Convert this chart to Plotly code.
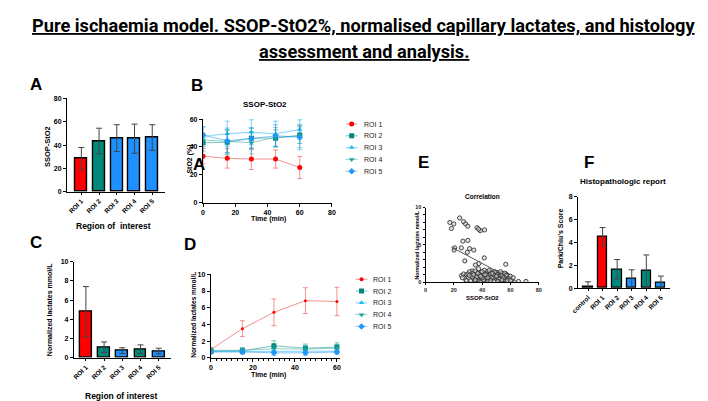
import plotly.graph_objects as go

W, H = 708, 401
FONT = "Liberation Sans, Arial, sans-serif"

RED = "#FF0000"
TEAL = "#00897B"
BLUE = "#1E90FF"
SKY = "#29B6F6"

# ---- data -------------------------------------------------------------
roi = ["ROI 1", "ROI 2", "ROI 3", "ROI 4", "ROI 5"]

# A: SSOP-StO2 per region
a_mean = [28.5, 43.5, 46.0, 45.5, 46.5]
a_sd = [9.5, 11.0, 11.5, 12.5, 11.0]

# B: SSOP-StO2 over time
time_b = [0, 15, 30, 45, 60]
b_mean = {
    "ROI 1": [33.4, 31.8, 31.3, 31.3, 25.2],
    "ROI 2": [43.0, 43.3, 46.3, 46.3, 48.5],
    "ROI 3": [47.5, 49.5, 50.5, 49.5, 52.5],
    "ROI 4": [45.0, 44.0, 43.0, 47.0, 47.5],
    "ROI 5": [48.5, 44.5, 46.0, 48.0, 47.0],
}
b_sd = {
    "ROI 1": [5.5, 7.0, 7.5, 6.5, 8.0],
    "ROI 2": [6.0, 9.0, 7.0, 6.0, 6.0],
    "ROI 3": [7.0, 9.0, 9.0, 9.0, 7.0],
    "ROI 4": [5.0, 8.0, 8.0, 7.0, 8.0],
    "ROI 5": [6.0, 9.0, 8.0, 8.0, 9.0],
}

# C: normalised lactates per region
c_mean = [4.8, 1.1, 0.75, 0.9, 0.7]
c_sd = [2.6, 0.55, 0.3, 0.45, 0.3]

# D: normalised lactates over time
time_d = [0, 15, 30, 45, 60]
d_mean = {
    "ROI 1": [1.0, 3.5, 5.45, 6.85, 6.75],
    "ROI 2": [0.8, 0.85, 1.45, 1.15, 1.3],
    "ROI 3": [0.75, 0.75, 0.8, 0.75, 0.8],
    "ROI 4": [0.9, 0.9, 1.1, 1.05, 1.15],
    "ROI 5": [0.7, 0.7, 0.6, 0.6, 0.7],
}
d_sd = {
    "ROI 1": [0.25, 0.95, 1.6, 1.55, 1.7],
    "ROI 2": [0.3, 0.35, 0.6, 0.5, 0.5],
    "ROI 3": [0.2, 0.25, 0.3, 0.3, 0.3],
    "ROI 4": [0.25, 0.3, 0.4, 0.4, 0.4],
    "ROI 5": [0.2, 0.2, 0.3, 0.3, 0.25],
}

# E: correlation SSOP-StO2 vs lactates
e_sto2 = [17.2, 20.0, 18.3, 24.1, 26.9, 28.3, 29.9, 36.4, 38.7, 41.7, 37.5,
          26.4, 29.9, 20.6, 20.2, 25.3, 31.1, 29.5, 34.1, 27.8, 41.5, 37.7,
          35.2, 56.7, 33.0,
          25.5, 27.0, 28.5, 29.0, 30.5, 31.0, 32.0, 32.5, 33.5, 34.0, 34.5,
          35.0, 35.5, 36.0, 36.5, 37.0, 37.5, 38.0, 38.5, 39.0, 39.5, 40.0,
          40.5, 41.0, 41.5, 42.0, 42.5, 43.0, 43.5, 44.0, 44.5, 45.0, 45.5,
          46.0, 46.5, 47.0, 47.5, 48.0, 48.5, 49.0, 49.5, 50.0, 50.5, 51.0,
          51.5, 52.0, 52.5, 53.0, 53.5, 54.0, 54.5, 55.0, 55.5, 56.0, 56.5,
          57.0, 57.5, 58.0, 59.0, 60.0, 61.0, 62.0, 65.7, 71.0,
          38.0, 40.0, 42.0, 44.0, 46.0, 48.0, 50.0, 52.0, 54.0, 56.0, 36.0,
          39.0, 43.0, 47.0, 51.0, 55.0, 58.0, 33.0, 30.0, 45.0, 49.0, 41.0,
          37.0, 53.0, 57.0, 60.0, 44.0, 48.0, 40.0, 35.0, 29.0, 26.0, 31.0,
          34.0, 46.0, 50.0, 54.0, 42.0, 47.0, 39.0]
e_lact = [8.0, 7.8, 7.2, 8.6, 8.1, 7.8, 7.5, 7.3, 6.9, 7.0, 7.1,
          5.5, 5.6, 4.6, 4.3, 4.6, 4.5, 4.0, 4.3, 2.85, 3.25, 2.5,
          2.3, 2.4, 1.5,
          0.9, 1.1, 0.3, 1.0, 0.6, 1.4, 0.2, 0.9, 1.2, 0.5, 0.1,
          1.5, 0.8, 0.3, 1.1, 0.6, 1.8, 0.2, 0.9, 1.3, 0.5, 0.1,
          1.0, 0.7, 1.6, 0.3, 1.2, 0.8, 0.4, 1.4, 0.9, 0.2, 1.1,
          0.6, 1.3, 0.4, 0.9, 1.2, 0.2, 0.7, 1.0, 0.5, 1.3, 0.8,
          0.3, 1.1, 0.6, 0.9, 0.2, 1.2, 0.7, 0.4, 1.0, 0.8, 0.3,
          1.1, 0.6, 0.9, 0.5, 0.8, 0.3, 0.6, 0.1, 0.1,
          1.0, 1.4, 0.6, 0.1, 1.0, 0.6, 1.1, 0.4, 0.9, 1.2, 0.7,
          0.0, 1.0, 0.7, 0.1, 0.6, 0.2, 0.7, 1.1, 1.6, 1.4, 0.3,
          1.2, 1.4, 0.9, 0.2, 0.6, 1.0, 0.6, 0.3, 0.2, 0.6, 0.9,
          1.0, 0.2, 0.8, 0.3, 1.0, 1.2, 0.8]
e_fit_x = [18.3, 65.0]
e_fit_y = [4.7, 0.0]

# F: histopathologic score
f_groups = ["control", "ROI 1", "ROI 2", "ROI 3", "ROI 4", "ROI 5"]
f_mean = [0.1, 4.5, 1.65, 0.8, 1.5, 0.45]
f_sd = [0.45, 0.8, 0.85, 0.8, 1.4, 0.6]


# ---- helpers ----------------------------------------------------------
def px(x):
    return x / W


def py(y):
    return 1 - y / H


def tfont(size=7, color="black"):
    return dict(size=size, family=FONT, color=color, weight="bold")


def axis(dom, rng, **kw):
    d = dict(
        domain=dom, range=rng, showline=True, linecolor="black", linewidth=1.3,
        ticks="outside", ticklen=3, tickwidth=1.2, tickcolor="black",
        showgrid=False, zeroline=False, fixedrange=True,
        tickfont=tfont(7),
    )
    d.update(kw)
    return d


def text(x, y, s, size=7, bold=True, angle=0, color="black"):
    return dict(
        x=px(x), y=py(y), xref="paper", yref="paper", showarrow=False,
        text=f"<b>{s}</b>" if bold else s, textangle=angle,
        xanchor="center", yanchor="middle",
        font=dict(size=size, family=FONT, color=color),
    )


line_style = {
    "ROI 1": dict(color=RED, line="rgba(240,110,110,0.75)", symbol="circle"),
    "ROI 2": dict(color=TEAL, line="rgba(0,137,123,0.5)", symbol="square"),
    "ROI 3": dict(color=SKY, line="rgba(41,182,246,0.6)", symbol="triangle-up"),
    "ROI 4": dict(color="#1BA39C", line="rgba(27,163,156,0.5)", symbol="triangle-down"),
    "ROI 5": dict(color="#2196F3", line="rgba(33,150,243,0.55)", symbol="diamond"),
}

fig = go.Figure()

# A
fig.add_trace(go.Bar(
    x=roi, y=a_mean, width=0.67, xaxis="x", yaxis="y",
    marker=dict(color=[RED, TEAL, BLUE, BLUE, BLUE], line=dict(color="black", width=1.4)),
    error_y=dict(type="data", array=a_sd, color="#444", thickness=1, width=3),
))

# C
fig.add_trace(go.Bar(
    x=roi, y=c_mean, width=0.65, xaxis="x3", yaxis="y3",
    marker=dict(color=[RED, TEAL, BLUE, TEAL, BLUE], line=dict(color="black", width=1.4)),
    error_y=dict(type="data", array=c_sd, color="#444", thickness=1, width=3),
))

# F
fig.add_trace(go.Bar(
    x=f_groups, y=f_mean, width=0.64, xaxis="x6", yaxis="y6",
    marker=dict(color=["#222", RED, TEAL, BLUE, TEAL, BLUE], line=dict(color="black", width=1.3)),
    error_y=dict(type="data", array=f_sd, color="#444", thickness=1, width=3),
))

# B and D time courses
for name in roi:
    st = line_style[name]
    fig.add_trace(go.Scatter(
        x=time_b, y=b_mean[name], mode="lines+markers", xaxis="x2", yaxis="y2",
        line=dict(color=st["line"], width=1),
        marker=dict(color=st["color"], symbol=st["symbol"], size=5),
        error_y=dict(type="data", array=b_sd[name], color=st["line"], thickness=1, width=2.5),
    ))
    fig.add_trace(go.Scatter(
        x=time_d, y=d_mean[name], mode="lines+markers", xaxis="x4", yaxis="y4",
        line=dict(color=st["line"], width=1),
        marker=dict(color=st["color"], symbol=st["symbol"], size=3 if name == "ROI 1" else 5),
        error_y=dict(type="data", array=d_sd[name], color=st["line"], thickness=1, width=2.5),
    ))

# custom legends for B (x7/y7) and D (x8/y8)
for i, name in enumerate(roi):
    st = line_style[name]
    for ax in ("7", "8"):
        fig.add_trace(go.Scatter(
            x=[0], y=[i], mode="markers", xaxis="x" + ax, yaxis="y" + ax,
            marker=dict(color=st["color"], symbol=st["symbol"], size=4 if ax == "8" and i == 0 else 5),
            error_x=dict(type="constant", value=0.6, color=st["line"], thickness=1, width=0),
        ))

# E
fig.add_trace(go.Scatter(
    x=e_sto2, y=e_lact, mode="markers", xaxis="x5", yaxis="y5",
    marker=dict(symbol="circle", size=4.2, color="rgba(210,210,210,0.6)",
                line=dict(color="#333", width=0.9)),
))
fig.add_trace(go.Scatter(
    x=e_fit_x, y=e_fit_y, mode="lines", xaxis="x5", yaxis="y5",
    line=dict(color="#555", width=1),
))

layout = dict(
    width=W, height=H, margin=dict(l=0, r=0, t=0, b=0),
    paper_bgcolor="white", plot_bgcolor="white", showlegend=False,
    font=dict(family=FONT, color="black"),
    bargap=0,
)

cat_kw = dict(type="category", tickangle=-45, ticklen=2, tickfont=tfont(6.5))
layout["xaxis"] = axis([px(53), px(152)], [-0.8, 4.7], anchor="y", **cat_kw)
layout["yaxis"] = axis([py(183), py(88)], [0, 80], anchor="x", dtick=20)

layout["xaxis2"] = axis([px(191), px(322)], [0, 80], anchor="y2", dtick=20)
layout["yaxis2"] = axis([py(194), py(109)], [0, 60], anchor="x2", dtick=20)

layout["xaxis3"] = axis([px(60), px(158)], [-0.65, 4.65], anchor="y3", **cat_kw)
layout["yaxis3"] = axis([py(352), py(254)], [0, 10], anchor="x3", dtick=2)

layout["xaxis4"] = axis([px(199), px(330)], [0, 61.4], anchor="y4", dtick=20,
                        minor=dict(dtick=2.5, ticks="outside", ticklen=2, tickcolor="black"))
layout["yaxis4"] = axis([py(352), py(267)], [0, 10], anchor="x4", dtick=2)

small = dict(tickfont=tfont(5.5, "#222"), ticklen=2, linewidth=1, tickwidth=1)
layout["xaxis5"] = axis([px(417), px(532)], [0, 80], anchor="y5", dtick=20, **small)
layout["yaxis5"] = axis([py(275), py(199)], [0, 10], anchor="x5", dtick=5,
                        minor=dict(dtick=1, ticks="outside", ticklen=1.5, tickcolor="black"), **small)

layout["xaxis6"] = axis([px(572), px(665)], [-0.68, 5.6], anchor="y6", **cat_kw)
layout["yaxis6"] = axis([py(281), py(188)], [0, 8], anchor="x6", dtick=2)

hidden = dict(visible=False, fixedrange=True)
layout["xaxis7"] = dict(domain=[px(332), px(352)], range=[-1, 1], anchor="y7", **hidden)
layout["yaxis7"] = dict(domain=[py(168), py(108)], range=[4.5, -0.5], anchor="x7", **hidden)
layout["xaxis8"] = dict(domain=[px(342), px(362)], range=[-1, 1], anchor="y8", **hidden)
layout["yaxis8"] = dict(domain=[py(326), py(266)], range=[4.5, -0.5], anchor="x8", **hidden)

title_font = dict(size=18.2, family="Roboto, sans-serif", color="black")
ann = [
    dict(x=0.5, y=py(14), xref="paper", yref="paper", showarrow=False,
         text="<b><u>Pure ischaemia model. SSOP-StO2%, normalised capillary lactates, and histology</u></b>",
         font=title_font, yanchor="middle"),
    dict(x=0.5, y=py(40), xref="paper", yref="paper", showarrow=False,
         text="<b><u>assessment and analysis.</u></b>",
         font=title_font, yanchor="middle"),
    text(21, 74, "A", 17), text(185, 75, "B", 17), text(21, 235, "C", 17),
    text(178, 237, "D", 17), text(415, 153, "E", 17), text(583, 153, "F", 17),
    text(33, 137, "SSOP-StO2", 7.5, angle=-90),
    text(100, 218, "Region of  interest", 8.5),
    text(35, 303, "Normalized lactates mmol/L", 7, angle=-90),
    text(108, 391, "Region of interest", 8.5),
    text(254, 94, "SSOP-StO2", 8),
    text(178, 150, "StO2 (%)", 7, angle=-90),
    text(257, 211, "Time (min)", 7),
    text(187, 155, "A", 17),
    text(181, 308, "Normalized lactates mmol/L", 6.5, angle=-90),
    text(258, 369, "Time (min)", 7),
    text(475, 188, "Correlation", 6.5),
    text(408, 237, "Normalized lactates mmol/L", 5.2, angle=-90),
    text(475, 291, "SSOP-StO2", 6),
    text(618, 173, "Histopathologic report", 8),
    text(555, 230, "Park/Chiu\u2019s Score", 7, angle=-90),
]
for i, name in enumerate(roi):
    for ax in ("7", "8"):
        ann.append(dict(x=1, y=i, xref="x" + ax, yref="y" + ax, showarrow=False,
                        text=name, xanchor="left", yanchor="middle",
                        font=dict(size=7, family=FONT, color="#222")))
layout["annotations"] = ann

fig.update_layout(layout)
fig.write_html("out.html")
